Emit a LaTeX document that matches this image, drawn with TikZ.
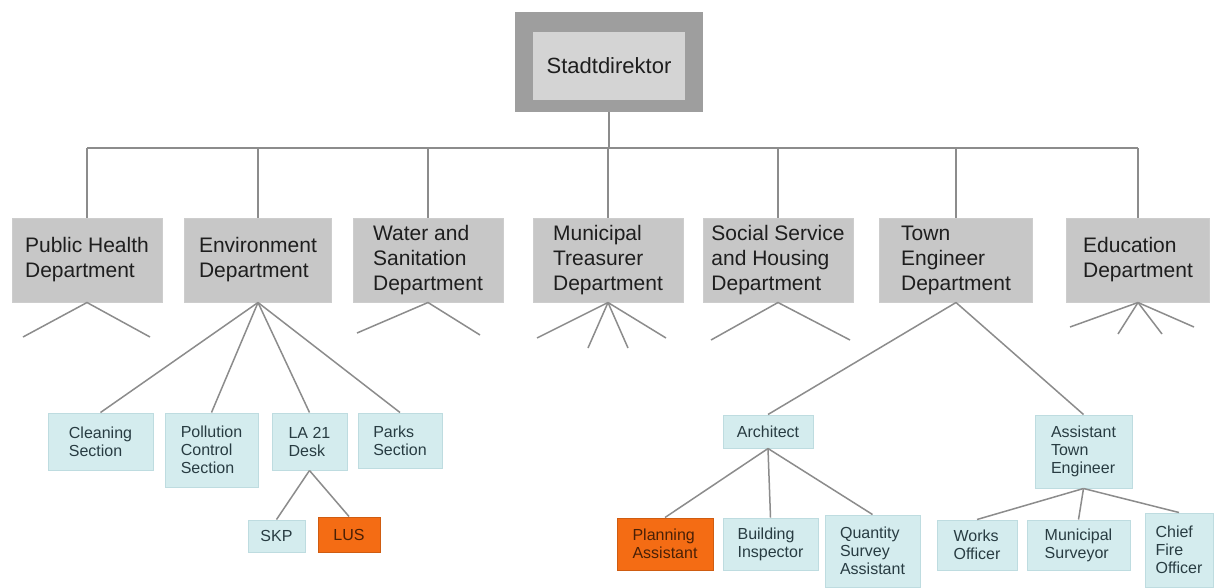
\documentclass[tikz,border=0pt]{standalone}
\usepackage{fontspec}
\setmainfont{Liberation Sans}
\definecolor{deptgray}{RGB}{199,199,199}
\definecolor{topouter}{RGB}{158,158,158}
\definecolor{topinner}{RGB}{212,212,212}
\definecolor{cyanbox}{RGB}{212,236,238}
\definecolor{cyanedge}{RGB}{190,220,224}
\definecolor{orangebox}{RGB}{244,108,20}
\definecolor{linegray}{RGB}{140,140,140}
\definecolor{txtdark}{RGB}{30,30,30}
\definecolor{txtteal}{RGB}{40,60,66}
\tikzset{
  dept/.style={rectangle, fill=deptgray, draw=deptgray!90!white, line width=1pt,
    minimum width=150pt, minimum height=84pt, inner sep=1pt, align=left,
    text=txtdark, font=\fontsize{21}{25}\selectfont},
  sect/.style={rectangle, fill=cyanbox, draw=cyanedge, line width=1pt,
    inner sep=1pt, align=left, text=txtteal, font=\fontsize{16}{18}\selectfont},
  hot/.style={sect, fill=orangebox, draw=orangebox!85!black, text=black!70!orangebox},
  conn/.style={draw=linegray, line width=1.5pt},
}
\begin{document}
\begin{tikzpicture}[x=1pt, y=-1pt]
\useasboundingbox[fill=white] (0,0) rectangle (1215,587);
% top box
\node[rectangle, fill=topouter, minimum width=188pt, minimum height=100pt, inner sep=0pt] (topout) at (609,62) {};
\node[rectangle, fill=topinner, minimum width=152pt, minimum height=68pt, inner sep=0pt,
  text=txtdark, font=\fontsize{22}{25}\selectfont] (top) at (609,66) {Stadtdirektor};
% departments
\node[dept] (d1) at (87,260) {Public Health\\Department};
\node[dept, minimum width=147pt] (d2) at (258,260) {Environment\\Department};
\node[dept] (d3) at (428,260) {Water and\\Sanitation\\Department};
\node[dept] (d4) at (608,260) {Municipal\\Treasurer\\Department};
\node[dept] (d5) at (778,260) {Social Service\\and Housing\\Department};
\node[dept, minimum width=153pt] (d6) at (956,260) {Town\\Engineer\\Department};
\node[dept, minimum width=143pt] (d7) at (1138,260) {Education\\Department};
% bus
\coordinate (bus) at (609,148);
\draw[conn] (topout.south) -- (bus);
\draw[conn] (d1.north |- bus) -- (d7.north |- bus);
\foreach \d in {d1,d2,d3,d4,d5,d6,d7} \draw[conn] (\d.north) -- (\d.north |- bus);
% stubs
\coordinate (s1a) at (23,337); \coordinate (s1b) at (150,337);
\draw[conn] (s1a) -- (d1.south) -- (s1b);
\coordinate (s3a) at (357,333); \coordinate (s3b) at (480,335);
\draw[conn] (s3a) -- (d3.south) -- (s3b);
\coordinate (s4a) at (537,338); \coordinate (s4b) at (588,348);
\coordinate (s4c) at (628,348); \coordinate (s4d) at (666,338);
\foreach \s in {s4a,s4b,s4c,s4d} \draw[conn] (d4.south) -- (\s);
\coordinate (s5a) at (711,340); \coordinate (s5b) at (850,340);
\draw[conn] (s5a) -- (d5.south) -- (s5b);
\coordinate (s7a) at (1070,327); \coordinate (s7b) at (1118,334);
\coordinate (s7c) at (1162,334); \coordinate (s7d) at (1194,327);
\foreach \s in {s7a,s7b,s7c,s7d} \draw[conn] (d7.south) -- (\s);
% environment children
\node[sect, minimum width=105pt, minimum height=57pt] (clean) at (100.5,441.5) {Cleaning\\Section};
\node[sect, minimum width=93pt, minimum height=74pt] (poll) at (211.5,450) {Pollution\\Control\\Section};
\node[sect, minimum width=75pt, minimum height=57pt] (la21) at (309.5,441.5) {LA 21\\Desk};
\node[sect, minimum width=84pt, minimum height=55pt] (parks) at (400,440.5) {Parks\\Section};
\foreach \c in {clean,poll,la21,parks} \draw[conn] (d2.south) -- (\c.north);
\node[sect, minimum width=57pt, minimum height=32pt] (skp) at (276.5,536) {SKP};
\node[hot, minimum width=62pt, minimum height=35pt] (lus) at (349,534.5) {LUS};
\draw[conn] (la21.south) -- (skp.north);
\draw[conn] (la21.south) -- (lus.north);
% town engineer children
\node[sect, minimum width=90pt, minimum height=33pt] (arch) at (768,431.5) {Architect};
\node[sect, minimum width=97pt, minimum height=73pt] (ate) at (1083.5,451.5) {Assistant\\Town\\Engineer};
\draw[conn] (d6.south) -- (arch.north);
\draw[conn] (d6.south) -- (ate.north);
\node[hot, minimum width=96pt, minimum height=52pt] (plan) at (665,544) {Planning\\Assistant};
\node[sect, minimum width=95pt, minimum height=52pt] (build) at (770.5,544) {Building\\Inspector};
\node[sect, minimum width=95pt, minimum height=72pt] (qsa) at (872.5,551) {Quantity\\Survey\\Assistant};
\foreach \c in {plan,build,qsa} \draw[conn] (arch.south) -- (\c.north);
\node[sect, minimum width=80pt, minimum height=50pt] (works) at (977,545) {Works\\Officer};
\node[sect, minimum width=103pt, minimum height=50pt] (msurv) at (1078.5,545) {Municipal\\Surveyor};
\node[sect, minimum width=68pt, minimum height=74pt] (cfo) at (1179,550) {Chief\\Fire\\Officer};
\foreach \c in {works,msurv,cfo} \draw[conn] (ate.south) -- (\c.north);
\end{tikzpicture}
\end{document}
